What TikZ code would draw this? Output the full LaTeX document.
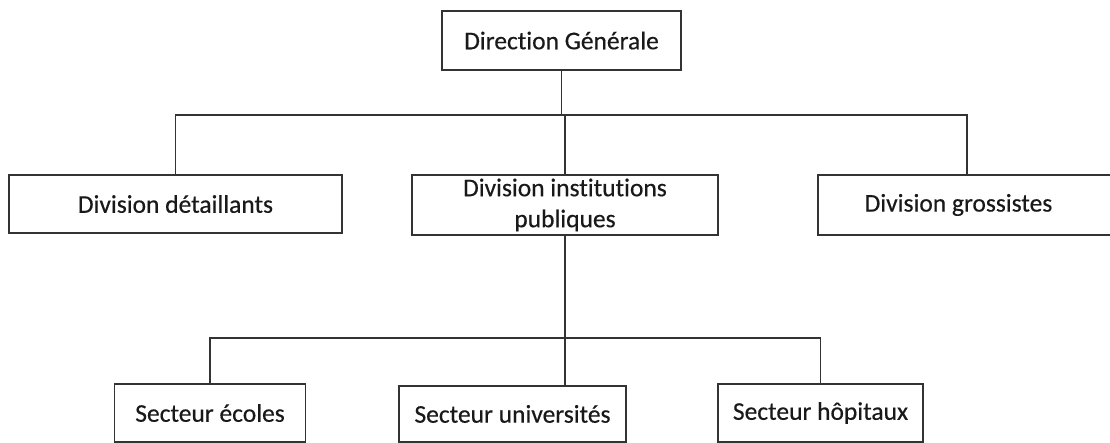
\documentclass[tikz,border=0pt]{standalone}
\usepackage{fontspec}
\setmainfont{Carlito}[Ligatures=NoCommon, UprightFeatures={FakeBold=0.4}]
\begin{document}
\begin{tikzpicture}[x=1pt,y=-1pt,
  orgbox/.style={draw=black!80, line width=1.4pt, fill=white, inner sep=0pt,
    align=center, text=black!90, font=\fontsize{25.5}{31}\selectfont},
  link/.style={draw=black!80, line width=1.2pt}]
\useasboundingbox (0,0) rectangle (1110,443);
\clip (0,0) rectangle (1110,443);
\node[orgbox, minimum width=239pt, minimum height=59pt] (dg) at (561.5,40.5) {Direction Générale};
\node[orgbox, minimum width=333pt, minimum height=58pt] (det) at (175.5,204) {Division détaillants};
\node[orgbox, minimum width=306pt, minimum height=60pt] (inst) at (565,205) {Division institutions\\publiques};
\node[orgbox, minimum width=298pt, minimum height=60pt] (gro) at (967,205) {\hspace*{-17pt}Division grossistes};
\node[orgbox, minimum width=191pt, minimum height=58pt] (eco) at (210,413) {Secteur écoles};
\node[orgbox, minimum width=227pt, minimum height=56pt] (uni) at (512.5,414) {Secteur universités};
\node[orgbox, minimum width=205pt, minimum height=58pt] (hop) at (820.5,413) {Secteur hôpitaux};
\coordinate (bus1) at (0,115);
\coordinate (bus2) at (0,338);
\draw[link] (dg.south) -- (dg.south |- bus1);
\draw[link] (det.north) |- (gro.north |- bus1) -- (gro.north);
\draw[link] (inst.north |- bus1) -- (inst.north);
\draw[link] (inst.south) -- (inst.south |- uni.north);
\draw[link] (eco.north) |- (hop.north |- bus2) -- (hop.north);
\end{tikzpicture}
\end{document}
